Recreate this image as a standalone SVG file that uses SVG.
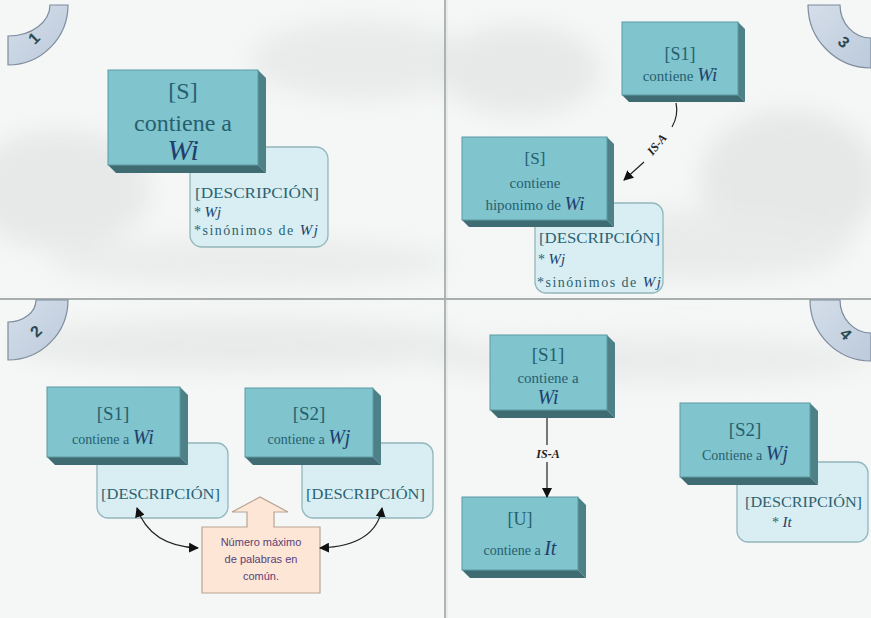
<svg xmlns="http://www.w3.org/2000/svg" width="871" height="618" viewBox="0 0 871 618">
<defs>
<filter id="blur" x="-20%" y="-20%" width="140%" height="140%"><feGaussianBlur stdDeviation="12"/></filter>
<marker id="ah" viewBox="0 0 10 10" refX="9" refY="5" markerWidth="10" markerHeight="10" markerUnits="userSpaceOnUse" orient="auto-start-reverse"><path d="M0,0 L10,5 L0,10 Z" fill="#111"/></marker>
<linearGradient id="badge" x1="0" y1="0" x2="1" y2="1"><stop offset="0" stop-color="#d5deea"/><stop offset="1" stop-color="#bccadb"/></linearGradient>
</defs>
<style>
.face{fill:#80c4ce;stroke:#5c9aa3;stroke-width:1}
.side{fill:#4e8187}
.bot{fill:#3f6c72}
.desc{fill:#d8eef2;stroke:#93b7bd;stroke-width:1.3}
.t{font-family:"Liberation Serif","DejaVu Serif",serif;fill:#26606f;text-anchor:middle}
.w{font-family:"Liberation Serif","DejaVu Serif",serif;font-style:italic;fill:#1f3f6e}
.dt{font-family:"Liberation Serif","DejaVu Serif",serif;fill:#2b6272;font-size:14px}
.badge{fill:url(#badge);stroke:#7d8c9c;stroke-width:1.2}
.num{font-family:"Liberation Sans","DejaVu Sans",sans-serif;font-weight:bold;font-size:16px;fill:#2b4b52;text-anchor:middle}
.conn{fill:none;stroke:#222;stroke-width:1.2}
.isa{font-family:"Liberation Serif","DejaVu Serif",serif;font-weight:bold;font-style:italic;font-size:12px;fill:#222;text-anchor:middle}
.call{font-family:"Liberation Sans","Arimo",sans-serif;font-size:11px;fill:#5a3f78;text-anchor:middle}
</style>

<!-- background -->
<rect x="0" y="0" width="871" height="618" fill="#f5f6f6"/>
<g id="clouds" filter="url(#blur)" opacity="0.55">
<ellipse cx="60" cy="190" rx="90" ry="60" fill="#dcdfdf"/>
<ellipse cx="360" cy="60" rx="110" ry="40" fill="#e0e2e2"/>
<ellipse cx="250" cy="262" rx="200" ry="24" fill="#e2e4e4"/>
<ellipse cx="520" cy="70" rx="80" ry="45" fill="#dcdfdf"/>
<ellipse cx="790" cy="180" rx="90" ry="70" fill="#dadddd"/>
<ellipse cx="700" cy="245" rx="150" ry="35" fill="#e0e2e2"/>
<ellipse cx="240" cy="345" rx="230" ry="26" fill="#dfe2e2"/>
<ellipse cx="650" cy="360" rx="220" ry="24" fill="#e2e4e4"/>
</g>

<!-- dividers -->
<g id="dividers">
<line x1="445" y1="0" x2="445" y2="618" stroke="#9ea4a4" stroke-width="1.6"/>
<line x1="447" y1="0" x2="447" y2="618" stroke="#dfe3e3" stroke-width="1"/>
<line x1="0" y1="299" x2="871" y2="299" stroke="#a9aeae" stroke-width="2"/>
</g>

<!-- badges -->
<g id="badge1"><path class="badge" d="M50 5 L68 5 A60 60 0 0 1 8 65 L8 36 A42 31 0 0 0 50 5 Z"/><text class="num" transform="translate(38,42) rotate(-45)">1</text></g>
<g id="badge3"><path class="badge" d="M808 5 L840 5 A31 33 0 0 0 871 38 L871 68 A63 63 0 0 1 808 5 Z"/><text class="num" transform="translate(840,46) rotate(45)">3</text></g>
<g id="badge2"><path class="badge" d="M36 300 L68 300 A60 60 0 0 1 8 360 L8 322 A28 22 0 0 0 36 300 Z"/><text class="num" transform="translate(40,335) rotate(-45)">2</text></g>
<g id="badge4"><path class="badge" d="M810 300 L840 300 A31 33 0 0 0 871 333 L871 361 A61 61 0 0 1 810 300 Z"/><text class="num" transform="translate(842,338) rotate(45)">4</text></g>

<!-- Quadrant 1 -->
<g id="q1-desc"><rect class="desc" x="190" y="147" width="138" height="100" rx="12"/>
<text class="dt" x="195" y="198" textLength="124" lengthAdjust="spacingAndGlyphs">[DESCRIPCIÓN]</text>
<text class="dt" x="194" y="217">* <tspan class="w" font-size="15">Wj</tspan></text>
<text class="dt" x="194" y="235" textLength="124" lengthAdjust="spacing">*sinónimos de <tspan class="w" font-size="15">Wj</tspan></text>
</g>
<g id="q1-S">
<polygon class="side" points="258,70 266,78 266,173 258,165"/>
<polygon class="bot" points="108,165 258,165 266,173 116,173"/>
<rect class="face" x="108" y="70" width="150" height="95"/>
<text class="t" x="183" y="99" font-size="24">[S]</text>
<text class="t" x="183" y="131" font-size="24">contiene a</text>
<text class="w" x="183" y="160" font-size="30" text-anchor="middle">Wi</text>
</g>

<!-- Quadrant 3 -->
<g id="q3-desc"><rect class="desc" x="535" y="203" width="128" height="90" rx="11"/>
<text class="dt" x="539" y="243" textLength="121" lengthAdjust="spacingAndGlyphs">[DESCRIPCIÓN]</text>
<text class="dt" x="538" y="264">* <tspan class="w" font-size="15">Wj</tspan></text>
<text class="dt" x="537" y="287" textLength="124" lengthAdjust="spacing">*sinónimos de <tspan class="w" font-size="15">Wj</tspan></text>
</g>
<g id="q3-S1">
<polygon class="side" points="738,22 745,29 745,102 738,95"/>
<polygon class="bot" points="622,95 738,95 745,102 629,102"/>
<rect class="face" x="622" y="22" width="116" height="73"/>
<text class="t" x="680" y="60" font-size="18">[S1]</text>
<text class="t" x="680" y="81" font-size="15">contiene  <tspan class="w" font-size="19">Wi</tspan></text>
</g>
<g id="q3-S">
<polygon class="side" points="607,137 614,144 614,227 607,220"/>
<polygon class="bot" points="462,220 607,220 614,227 469,227"/>
<rect class="face" x="462" y="137" width="145" height="83"/>
<text class="t" x="535" y="164" font-size="17">[S]</text>
<text class="t" x="535" y="188" font-size="15">contiene</text>
<text class="t" x="535" y="210" font-size="15">hiponimo de <tspan class="w" font-size="19">Wi</tspan></text>
</g>

<!-- Quadrant 2 -->
<g id="q2-desc1"><rect class="desc" x="97" y="443" width="131" height="75" rx="11"/>
<text class="dt" x="101" y="499" textLength="119" lengthAdjust="spacingAndGlyphs">[DESCRIPCIÓN]</text>
</g>
<g id="q2-S1">
<polygon class="side" points="180,387 188,395 188,465 180,457"/>
<polygon class="bot" points="47,457 180,457 188,465 55,465"/>
<rect class="face" x="47" y="387" width="133" height="70"/>
<text class="t" x="113" y="420" font-size="19">[S1]</text>
<text class="t" x="113" y="444" font-size="14">contiene a  <tspan class="w" font-size="20">Wi</tspan></text>
</g>
<g id="q2-desc2"><rect class="desc" x="302" y="443" width="131" height="75" rx="11"/>
<text class="dt" x="306" y="499" textLength="119" lengthAdjust="spacingAndGlyphs">[DESCRIPCIÓN]</text>
</g>
<g id="q2-S2">
<polygon class="side" points="373,388 381,396 381,465 373,457"/>
<polygon class="bot" points="245,457 373,457 381,465 253,465"/>
<rect class="face" x="245" y="388" width="128" height="69"/>
<text class="t" x="309" y="420" font-size="19">[S2]</text>
<text class="t" x="309" y="444" font-size="14">contiene a  <tspan class="w" font-size="20">Wj</tspan></text>
</g>
<g id="q2-callout">
<path d="M202 527 L247 527 L247 512 L232 512 L260 497 L288 512 L274 512 L274 527 L320 527 L320 593 L202 593 Z" fill="#fde6d6" stroke="#b9a493" stroke-width="1.2"/>
<text class="call" x="261" y="546">Número máximo</text>
<text class="call" x="261" y="563">de palabras en</text>
<text class="call" x="261" y="580">común.</text>
</g>

<!-- Quadrant 4 -->
<g id="q4-S1">
<polygon class="side" points="607,335 615,343 615,418 607,410"/>
<polygon class="bot" points="490,410 607,410 615,418 498,418"/>
<rect class="face" x="490" y="335" width="117" height="75"/>
<text class="t" x="548" y="361" font-size="19">[S1]</text>
<text class="t" x="548" y="383" font-size="15">contiene a</text>
<text class="w" x="548" y="404" font-size="20" text-anchor="middle">Wi</text>
</g>
<g id="q4-U">
<polygon class="side" points="578,497 586,505 586,578 578,570"/>
<polygon class="bot" points="462,570 578,570 586,578 470,578"/>
<rect class="face" x="462" y="497" width="116" height="73"/>
<text class="t" x="520" y="525" font-size="18">[U]</text>
<text class="t" x="520" y="555" font-size="14">contiene a  <tspan class="w" font-size="20">It</tspan></text>
</g>
<g id="q4-desc"><rect class="desc" x="737" y="462" width="131" height="80" rx="11"/>
<text class="dt" x="745" y="507" textLength="117" lengthAdjust="spacingAndGlyphs">[DESCRIPCIÓN]</text>
<text class="dt" x="772" y="527">* <tspan class="w" font-size="15">It</tspan></text>
</g>
<g id="q4-S2">
<polygon class="side" points="810,403 818,411 818,485 810,477"/>
<polygon class="bot" points="680,477 810,477 818,485 688,485"/>
<rect class="face" x="680" y="403" width="130" height="74"/>
<text class="t" x="745" y="436" font-size="19">[S2]</text>
<text class="t" x="745" y="460" font-size="14">Contiene a  <tspan class="w" font-size="20">Wj</tspan></text>
</g>

<!-- connectors -->
<g id="connectors">
<path class="conn" d="M676 103 C678 112 676 120 672 127"/>
<path class="conn" d="M644 162 L624 180" marker-end="url(#ah)"/>
<text class="isa" transform="translate(660,147) rotate(-50)">IS-A</text>
<path class="conn" d="M137 508 Q150 546 198 548" marker-start="url(#ah)" marker-end="url(#ah)"/>
<path class="conn" d="M320 548 Q376 546 382 508" marker-start="url(#ah)" marker-end="url(#ah)"/>
<line class="conn" x1="547" y1="418" x2="547" y2="445"/>
<line class="conn" x1="547" y1="462" x2="547" y2="497" marker-end="url(#ah)"/>
<text class="isa" x="548" y="458" font-size="13">IS-A</text>
</g>
</svg>
